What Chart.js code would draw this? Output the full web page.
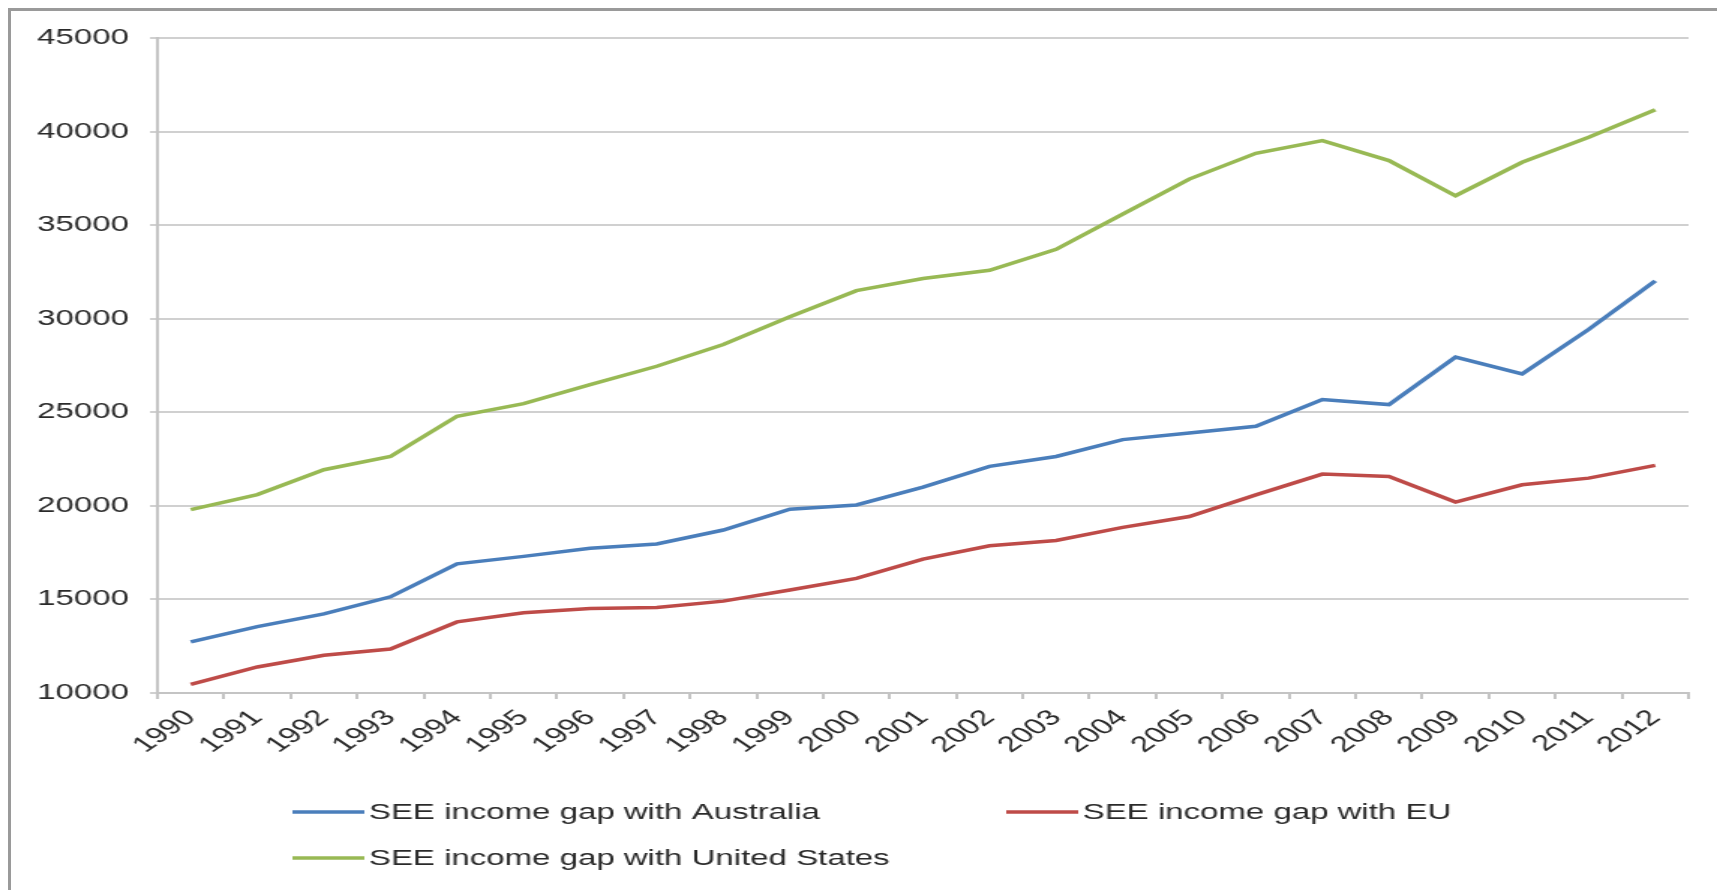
<!DOCTYPE html>
<html>
<head>
<meta charset="utf-8">
<script src="https://cdn.jsdelivr.net/npm/chart.js@4.4.1/dist/chart.umd.min.js"></script>
<style>
    html, body { margin: 0; padding: 0; background: #fff; }
    body { width: 1717px; height: 890px; position: relative; overflow: hidden; }
    #graphique { position: absolute; left: 0; top: 0; }
    .cadre {
        position: absolute; left: 8px; top: 8px; right: -10px; bottom: -10px;
        border-left: 3px solid #9a9a9a; border-top: 3px solid #9a9a9a;
        pointer-events: none;
    }
</style>
</head>
<body>
<!-- le graphique est dessiné à 1145 px puis étiré en largeur, comme l'export Excel -->
<canvas id="graphique" width="1145" height="890" style="width:1717px;height:890px"></canvas>
<div class="cadre"></div>
<script>
const annees = ['1990', '1991', '1992', '1993', '1994', '1995', '1996', '1997', '1998', '1999', '2000',
    '2001', '2002', '2003', '2004', '2005', '2006', '2007', '2008', '2009', '2010', '2011', '2012'];

const ecartAustralie = [12730, 13550, 14230, 15140, 16900, 17300, 17730, 17960, 18710, 19820, 20050,
    21000, 22110, 22640, 23540, 23890, 24250, 25680, 25410, 27950, 27050, 29430, 32020];

const ecartUE = [10460, 11390, 12020, 12350, 13800, 14290, 14520, 14570, 14910, 15500, 16125,
    17150, 17870, 18150, 18850, 19430, 20590, 21700, 21570, 20200, 21125, 21480, 22160];

const ecartEtatsUnis = [19800, 20600, 21930, 22640, 24790, 25460, 26480, 27460, 28620, 30100, 31500,
    32150, 32590, 33710, 35590, 37460, 38840, 39520, 38450, 36570, 38360, 39700, 41160];

const nomsSeries = ['SEE income gap with Australia', 'SEE income gap with EU', 'SEE income gap with United States'];
const couleursSeries = ['#4A7EBB', '#BE4B48', '#98B954'];

const axeYMin = 10000;
const axeYMax = 45000;
const axeYPas = 5000;

const police = {family: "'Liberation Sans', Arial, sans-serif", size: 22};
const couleurTexte = '#2a2a2a';


/**
 * Légende façon Excel : deux colonnes, les séries rangées ligne par ligne
 */
const legendeExcel = {
    id: 'legendeExcel',
    afterDraw(chart, args, opts) {
        const ctx = chart.ctx;
        ctx.save();
        ctx.font = `${police.size}px ${police.family}`;
        ctx.textBaseline = 'middle';
        ctx.textAlign = 'left';

        chart.data.datasets.forEach((dataset, i) => {
            const x = opts.colonnes[i % 2];
            const y = opts.lignes[Math.floor(i / 2)];

            ctx.strokeStyle = dataset.borderColor;
            ctx.lineWidth = dataset.borderWidth;
            ctx.beginPath();
            ctx.moveTo(x, y);
            ctx.lineTo(x + opts.longueurTrait, y);
            ctx.stroke();

            ctx.fillStyle = couleurTexte;
            ctx.fillText(dataset.label, x + opts.longueurTrait + opts.ecart, y + 1);
        });
        ctx.restore();
    }
};


const series = [ecartAustralie, ecartUE, ecartEtatsUnis];
const datasets = series.map((valeurs, i) => ({
    label: nomsSeries[i],
    data: valeurs,
    borderColor: couleursSeries[i],
    backgroundColor: couleursSeries[i],
    borderWidth: 3.5,
    fill: false,
    tension: 0,
    pointRadius: 0
}));

new Chart(document.getElementById('graphique'), {
    type: 'line',
    data: {
        labels: annees,
        datasets: datasets
    },
    options: {
        responsive: false,
        animation: false,
        devicePixelRatio: 1,
        layout: {
            padding: {left: 25, right: 19, top: 38, bottom: 133}
        },
        plugins: {
            legend: {display: false},
            tooltip: {enabled: false},
            legendeExcel: {
                colonnes: [195, 671],
                lignes: [812, 858],
                longueurTrait: 48,
                ecart: 3
            }
        },
        scales: {
            x: {
                offset: true,
                grid: {
                    offset: true,
                    drawOnChartArea: false,
                    drawTicks: true,
                    tickLength: 6,
                    color: '#c4c4c4',
                    lineWidth: 2
                },
                border: {color: '#c4c4c4', width: 2},
                ticks: {
                    autoSkip: false,
                    minRotation: 45,
                    maxRotation: 45,
                    padding: 6,
                    color: couleurTexte,
                    font: police
                },
                afterFit: (echelle) => {
                    echelle.height = 64;
                }
            },
            y: {
                min: axeYMin,
                max: axeYMax,
                grid: {
                    color: '#d0d0d0',
                    lineWidth: 2,
                    tickLength: 5
                },
                border: {color: '#c4c4c4', width: 2},
                ticks: {
                    stepSize: axeYPas,
                    padding: 14,
                    color: couleurTexte,
                    font: police,
                    callback: (valeur) => String(valeur)
                },
                afterFit: (echelle) => {
                    echelle.width = 80;
                }
            }
        }
    },
    plugins: [legendeExcel]
});
</script>
</body>
</html>
